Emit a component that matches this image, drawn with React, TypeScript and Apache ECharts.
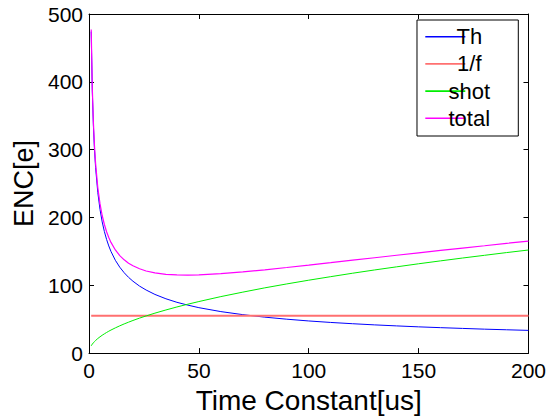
import React, { useEffect, useRef } from "react";
import * as echarts from "echarts";

const tValues = [1, 1.5, 2, 2.5, 3, 4, 5, 6, 7, 8, 9, 10, 12, 14, 16, 18, 20, 23, 26, 30, 35, 40, 45, 50, 60, 70, 80, 90, 100, 110, 120, 130, 140, 150, 160, 170, 180, 190, 200];
const thValues = [474, 387, 335.2, 299.8, 273.7, 237, 212, 193.5, 179.2, 167.6, 158, 149.9, 136.8, 126.7, 118.5, 111.7, 106, 98.8, 93, 86.5, 80.1, 74.9, 70.7, 67, 61.2, 56.7, 53, 50, 47.4, 45.2, 43.3, 41.6, 40.1, 38.7, 37.5, 36.4, 35.3, 34.4, 33.5];
const oneFValues = [55, 55, 55, 55, 55, 55, 55, 55, 55, 55, 55, 55, 55, 55, 55, 55, 55, 55, 55, 55, 55, 55, 55, 55, 55, 55, 55, 55, 55, 55, 55, 55, 55, 55, 55, 55, 55, 55, 55];
const shotValues = [10.75, 13.2, 15.2, 17, 18.6, 21.5, 24, 26.3, 28.4, 30.4, 32.25, 34, 37.2, 40.2, 43, 45.6, 48.1, 51.6, 54.8, 58.9, 63.6, 68, 72.1, 76, 83.3, 89.9, 96.2, 102, 107.5, 112.7, 117.8, 122.6, 127.2, 131.7, 136, 140.2, 144.2, 148.2, 152];
const totalValues = [477.3, 391.1, 340, 305.3, 279.8, 244.2, 220.3, 202.9, 189.6, 179, 170.4, 163.2, 152.1, 143.8, 137.5, 132.6, 128.7, 124.3, 121.1, 118.2, 116.1, 115.2, 115, 115.3, 117.1, 119.7, 122.8, 126.2, 129.7, 133.3, 137, 140.6, 144.3, 147.8, 151.4, 154.9, 158.3, 161.8, 165.1];
const seriesNames = ["Th", "1/f", "shot", "total"];
const xTicks = { min: 0, max: 200, interval: 50 };
const yTicks = { min: 0, max: 500, interval: 100 };

const FONT = "Liberation Sans, Arial, Helvetica, sans-serif";

function pairs(ys: number[]) {
  return tValues.map((t, i) => [t, ys[i]]);
}

export default function App() {
  const ref = useRef<HTMLDivElement>(null);
  useEffect(() => {
    if (!ref.current) return;
    const chart = echarts.init(ref.current, undefined, { renderer: "svg" });
    const axisCommon = {
      axisLine: { show: true, onZero: false, lineStyle: { color: "#000", width: 1 } },
      axisTick: { show: true, inside: true, length: 5, lineStyle: { color: "#000" } },
      splitLine: { show: false },
    };
    const colors = ["#0000ff", "#ff7070", "#00ee00", "#ff00ff"];
    const widths = [1, 2, 1, 1.2];
    const datasets = [thValues, oneFValues, shotValues, totalValues];
    chart.setOption({
      animation: false,
      backgroundColor: "#fff",
      textStyle: { fontFamily: FONT },
      grid: { left: 89, right: 20.5, top: 14, bottom: 65.5 },
      legend: {
        show: true,
        data: seriesNames,
        icon: "rect",
        orient: "vertical",
        left: 417,
        top: 20,
        itemWidth: 40,
        itemHeight: 1.6,
        itemGap: 5.2,
        padding: [5.7, 24, 6.7, 8.3],
        borderColor: "#000",
        borderWidth: 1,
        backgroundColor: "#fff",
        textStyle: {
          fontFamily: FONT,
          fontSize: 22,
          color: "#000",
          lineHeight: 22,
          padding: [0, 0, 0, -26],
          rich: {
            c: { width: 50, align: "center", fontSize: 22, fontFamily: FONT, color: "#000", lineHeight: 22 },
          },
        },
        formatter: (name: string) => `{c|${name}}`,
      },
      xAxis: [
        {
          type: "value",
          position: "bottom",
          min: xTicks.min,
          max: xTicks.max,
          interval: xTicks.interval,
          name: "Time Constant[us]",
          nameLocation: "middle",
          nameGap: 26,
          nameTextStyle: { fontFamily: FONT, fontSize: 28, color: "#000" },
          axisLabel: { fontFamily: FONT, fontSize: 21, color: "#000", margin: 7 },
          ...axisCommon,
        },
        {
          type: "value",
          position: "top",
          min: xTicks.min,
          max: xTicks.max,
          interval: xTicks.interval,
          axisLabel: { show: false },
          ...axisCommon,
        },
      ],
      yAxis: [
        {
          type: "value",
          position: "left",
          min: yTicks.min,
          max: yTicks.max,
          interval: yTicks.interval,
          name: "ENC[e]",
          nameLocation: "middle",
          nameGap: 45,
          nameTextStyle: { fontFamily: FONT, fontSize: 27, color: "#000" },
          axisLabel: { fontFamily: FONT, fontSize: 21, color: "#000", margin: 6 },
          ...axisCommon,
        },
        {
          type: "value",
          position: "right",
          min: yTicks.min,
          max: yTicks.max,
          interval: yTicks.interval,
          axisLabel: { show: false },
          ...axisCommon,
        },
      ],
      series: seriesNames.map((name, i) => ({
        name,
        type: "line",
        xAxisIndex: 0,
        yAxisIndex: 0,
        data: pairs(datasets[i]),
        showSymbol: false,
        symbol: "none",
        smooth: false,
        lineStyle: { color: colors[i], width: widths[i] },
        itemStyle: { color: colors[i] },
        emphasis: { disabled: true },
      })),
    });
    return () => chart.dispose();
  }, []);
  return (
    <div
      ref={ref}
      style={{ position: "fixed", left: 0, top: 0, width: 549, height: 419, background: "#fff" }}
    />
  );
}
